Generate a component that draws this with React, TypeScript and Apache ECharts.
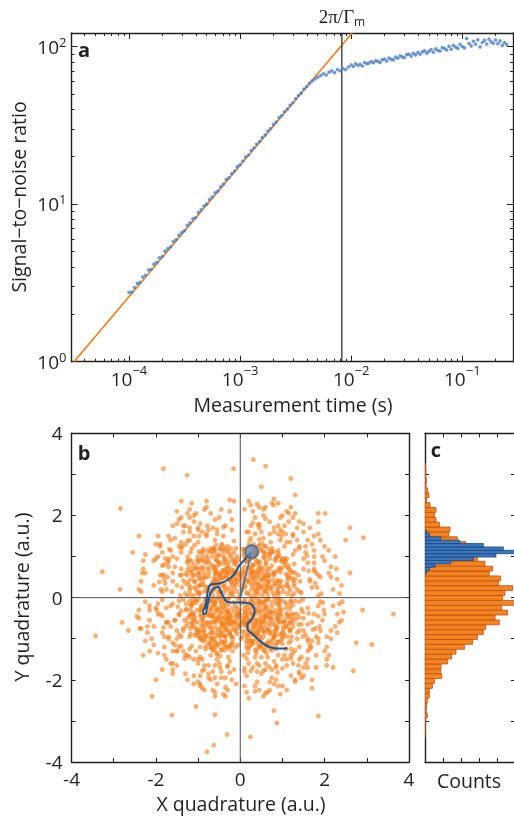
import React, { useEffect, useRef } from 'react';
import * as echarts from 'echarts';

// ---------- Panel a: SNR vs measurement time ----------
const TIME_S = [
  1.00e-4, 1.06e-4, 1.12e-4, 1.19e-4, 1.26e-4, 1.33e-4, 1.41e-4, 1.50e-4, 1.58e-4, 1.68e-4,
  1.78e-4, 1.88e-4, 2.00e-4, 2.11e-4, 2.24e-4, 2.37e-4, 2.51e-4, 2.66e-4, 2.82e-4, 2.99e-4,
  3.16e-4, 3.35e-4, 3.55e-4, 3.76e-4, 3.98e-4, 4.22e-4, 4.47e-4, 4.73e-4, 5.01e-4, 5.31e-4,
  5.62e-4, 5.96e-4, 6.31e-4, 6.68e-4, 7.08e-4, 7.50e-4, 7.94e-4, 8.41e-4, 8.91e-4, 9.44e-4,
  1.00e-3, 1.06e-3, 1.12e-3, 1.19e-3, 1.26e-3, 1.33e-3, 1.41e-3, 1.50e-3, 1.58e-3, 1.68e-3,
  1.78e-3, 1.88e-3, 2.00e-3, 2.11e-3, 2.24e-3, 2.37e-3, 2.51e-3, 2.66e-3, 2.82e-3, 2.99e-3,
  3.16e-3, 3.35e-3, 3.55e-3, 3.76e-3, 3.98e-3, 4.22e-3, 4.47e-3, 4.73e-3, 5.01e-3, 5.31e-3,
  5.62e-3, 5.96e-3, 6.31e-3, 6.68e-3, 7.08e-3, 7.50e-3, 7.94e-3, 8.41e-3, 8.91e-3, 9.44e-3,
  0.0100, 0.01047, 0.01096, 0.01148, 0.01202, 0.01259, 0.01318, 0.01380, 0.01445, 0.01514,
  0.01585, 0.01660, 0.01738, 0.01820, 0.01905, 0.01995, 0.02089, 0.02188, 0.02291, 0.02399,
  0.02512, 0.02630, 0.02754, 0.02884, 0.03020, 0.03162, 0.03311, 0.03467, 0.03631, 0.03802,
  0.03981, 0.04169, 0.04365, 0.04571, 0.04786, 0.05012, 0.05248, 0.05495, 0.05754, 0.06026,
  0.06310, 0.06607, 0.06918, 0.07244, 0.07586, 0.07943, 0.08318, 0.08710, 0.09120, 0.09550,
  0.1000, 0.1047, 0.1096, 0.1148, 0.1202, 0.1259, 0.1318, 0.1380, 0.1445, 0.1514,
  0.1585, 0.1660, 0.1738, 0.1820, 0.1905, 0.1995, 0.2089, 0.2188, 0.2291, 0.2399, 0.2512,
];
const SNR = [
  2.75, 2.77, 2.96, 3.14, 3.19, 3.45, 3.54, 3.82, 3.85, 4.16,
  4.28, 4.57, 4.65, 5.03, 5.22, 5.36, 5.79, 5.95, 6.36, 6.61,
  6.79, 7.33, 7.61, 8.06, 8.20, 8.85, 9.19, 9.73, 10.0, 10.7,
  11.1, 11.8, 12.1, 12.9, 13.4, 14.3, 14.7, 15.6, 16.2, 17.3,
  17.8, 18.8, 19.9, 20.5, 21.9, 22.7, 24.1, 25.0, 26.5, 27.5,
  29.1, 30.2, 32.0, 33.2, 35.5, 36.5, 38.6, 40.1, 42.4, 44.0,
  46.6, 48.9, 50.7, 53.7, 55.7, 58.4, 60.6, 62.3, 64.0, 65.5,
  67.2, 66.0, 68.8, 70.1, 68.4, 71.6, 70.2, 72.8, 71.5, 74.2,
  76.5, 74.8, 77.9, 76.1, 77.2, 75.3, 79.3, 78.0, 78.6, 80.4,
  79.0, 81.4, 80.6, 79.2, 82.5, 83.5, 81.1, 84.6, 83.0, 82.4,
  85.8, 84.3, 87.5, 86.1, 85.0, 88.9, 89.6, 87.0, 90.8, 88.6,
  91.9, 89.5, 92.6, 94.0, 90.9, 93.2, 95.7, 92.1, 96.8, 94.5,
  93.8, 98.6, 97.2, 95.1, 100.5, 96.4, 101.8, 99.3, 97.5, 103.4,
  100.2, 98.1, 112.5, 104.6, 101.0, 108.2, 103.5, 110.4, 99.6, 106.2,
  109.5, 103.8, 111.6, 107.2, 105.0, 110.2, 104.4, 108.8, 101.9, 106.0, 103.2,
];
const FIT_T = [3.2e-5, 1.02e-2];
const FIT_SNR = [1, 122];
const GAMMA_T = 8.24e-3;
const X_MIN = 3.04e-5;
const X_MAX = 0.286;
const Y_MIN = 1;
const Y_MAX = 122;
const X_MAJOR = [1e-4, 1e-3, 1e-2, 1e-1];
const X_MINOR = [
  4e-5, 5e-5, 6e-5, 7e-5, 8e-5, 9e-5,
  2e-4, 3e-4, 4e-4, 5e-4, 6e-4, 7e-4, 8e-4, 9e-4,
  2e-3, 3e-3, 4e-3, 5e-3, 6e-3, 7e-3, 8e-3, 9e-3,
  2e-2, 3e-2, 4e-2, 5e-2, 6e-2, 7e-2, 8e-2, 9e-2,
  2e-1,
];
const Y_MAJOR = [1, 10, 100];
const Y_MINOR = [2, 3, 4, 5, 6, 7, 8, 9, 20, 30, 40, 50, 60, 70, 80, 90];

// ---------- Panel b: quadrature scatter (hundredths of a.u., x,y pairs) ----------
const QUAD_XY_HUNDREDTHS = [
  12,-34, -25,8, 40,15, -7,-41, 31,-22, -38,27, 5,19, -16,-12, 22,37, -44,-9, 9,-27, 33,4, -29,-31, 17,44, -3,2, 41,-18,
  -21,36, -12,-45, 27,29, -36,-3, 2,-14, 15,11, -47,14, 38,-37, -9,31, 24,-8, -31,18, 6,46, -19,-26, 44,26, -5,-5, 29,-43,
  -41,-22, 13,-18, -24,42, 35,12, -14,23, 20,-31, -33,-40, 7,36, -45,3, 39,-2, -2,-30, 26,20, -17,5, 11,-6, -28,-17, 46,-11,
  -8,15, 18,-40, -37,33, 3,27, -22,-38, 32,34, -11,-20, 23,6, -39,11, 14,-47, -6,40, 43,9, -30,-6, 8,-10, -18,30, -42,-30,
  36,-28, 1,8, -26,24, 21,-15, -13,-33, 30,42, -35,-19, 10,25, -4,-38, 42,33, -20,12, 16,-24, -46,-14, 28,-3, -10,44, 34,-12, -27,-2,
  62,15, -55,40, 70,-48, -80,-22, 14,88, -33,-75, 91,27, -66,-61, 45,72, -97,8, 23,-83, 58,-60, -41,84, 77,44, -72,-35, 5,-95,
  -89,39, 36,-59, 64,70, -18,90, 83,-31, -59,-72, 49,-68, -92,-18, 28,79, -48,58, 95,-9, -25,-87, 68,39, -75,51, 12,-68, -62,-18,
  81,55, -7,77, 54,-80, -86,-44, 39,63, -50,-52, 74,-12, -31,70, 17,-99, -70,13, 88,20, -45,-86, 59,51, -94,-29, 31,-74, -57,75,
  72,-67, -14,-58, 47,86, -83,27, 66,-41, -38,-64, 9,62, -65,-48, 93,-35, -21,68, 52,25, -78,-60, 25,-91, -54,33, 86,-52, -2,-72,
  42,-90, -90,50, 60,-25, -36,93, 78,12, -68,-78, 19,73, -47,-38, 97,40, -12,-81, 55,-44, -81,-3, 35,95, -60,60, 69,-79, -28,-52,
  84,-14, -52,87, 40,55, -73,-12, 10,-84, -95,31, 63,28, -42,66, 87,-40, -16,95, 50,-57, -88,-55, 29,68, -64,40, 76,-57, -5,-62,
  57,61, -79,17, 18,-77, -46,-71, 92,9, -33,52, 71,-34, -56,-85, 38,-67, -99,-6, 22,91, -69,-29, 82,35, -24,-66, 46,-78, -85,60,
  65,-5, -37,-93, 3,58, -58,-60, 90,-60, -11,85, 53,70, -76,-42, 33,-86, -50,48, 79,60, -20,-95, 61,-70, -93,-39, 27,60, -63,77,
  94,-22, -30,-60, 44,80, -71,-5, 16,-63, -84,-25, 73,21, -8,-88, 48,-53, -61,22, 85,-76, -27,74, 56,-12, -44,-62, 11,98, -96,14,
  67,54, -34,-80, 89,-2, -53,-30, 37,-96, -74,69, 58,-86, -19,60,
  112,30, -118,-45, 40,-125, -60,115, 135,-40, -102,72, 80,-95, -130,10, 20,128, -85,-105, 125,62, -45,-128, 98,88, -140,-32,
  65,-118, -110,55, 140,15, -22,-112, 52,132, -95,-90, 118,-78, -70,120, 8,-140, -125,68, 105,-60, -55,-135, 130,45, -115,-15,
  35,115, -90,100, 145,-28, -38,-108, 88,-108, -135,42, 60,125, -100,-82, 122,-95, -15,138, 75,-128, -145,-8, 28,-105, -80,88,
  110,95, -128,-70, 45,142, -62,-118, 138,-65, -108,25, 15,-122, -72,112, 95,-88, -142,55, 70,105, -48,-142, 128,28, -120,-95,
  38,-135, -88,70, 148,-5, -30,125, 100,-112, -110,-40, 55,110, -132,-55, 85,98, -18,-130, 118,-20, -75,-110, 25,145, -138,25,
  108,-70, -58,128, 142,40, -95,-120, 62,-135, -125,90, 10,112, -85,-80, 132,-52, -40,118, 90,115, -148,-22, 48,-118, -102,92,
  115,78, -65,-128, 135,-85, -118,8, 32,130, -92,-98, 122,48, -28,-145, 78,-102, -140,70, 68,118, -112,-62, 102,-95, -52,105,
  145,12, -82,-125, 18,-135, -130,35, 95,70, -35,-120, 125,-60, -98,112, 58,-128, -145,-42, 40,108, -70,-100, 138,55, -120,75,
  85,-125, -10,120, 112,-42, -105,-75, 72,135, -60,-110, 130,-8, -88,118, 30,-112, -135,-80, 105,88, -45,130, 120,-105, -115,45,
  50,-145, -78,95, 148,-35, -25,-118, 92,102, -128,-30, 65,-110, -100,60, 118,68, -55,-138, 140,-48, -92,110, 22,138, -142,5,
  80,-88, -68,-122, 128,82, -108,-55, 42,125, -82,-92, 108,-125, -130,58, 15,-148, -62,120, 135,20, -118,-88, 75,112, -38,-128,
  165,40, -170,-60, 55,-178, -90,160, 185,-45, -150,95, 110,-150, -188,20, 30,182, -120,-145, 175,85, -65,-180, 140,120, -195,-40,
  85,-170, -155,75, 192,10, -30,-168, 70,185, -135,-130, 160,-105, -100,165, 15,-190, -172,85, 150,-80, -75,-185, 180,60, -165,-20,
  45,170, -125,138, 198,-30, -50,-160, 120,-148, -185,55, 95,165, -140,-118, 168,-120, -20,190, 100,-172, -195,-15, 40,-160, -108,128,
  155,125, -170,-95, 60,192, -85,-165, 188,-70, -150,30, 25,-178, -98,150, 130,-128, -185,78, 108,155, -60,-195, 178,35, -160,-130,
  50,-185, -118,110, 196,-12, -40,172, 140,-150, -155,-55, 80,160, -182,-72, 118,135, -25,-182, 162,-38, -100,-150, 35,195, -192,38,
  148,-95, -78,175, 190,50, -132,-148, 88,-182, -168,118, 20,160, -115,-118, 172,-78, -55,165, 125,150, -198,-30, 68,-168, -138,125,
  158,102, -90,-178, 185,-100, -162,15, 42,178, -125,-140, 162,65, -35,-195, 105,-140, -178,95, 90,175, -145,-90, 138,-165, -172,50,
  10,-172, -95,180, 182,25, -160,-110, 98,150, -48,-170,
  215,50, -220,-70, 60,-232, -110,200, 235,-60, -190,130, 140,-185, -240,20, 40,228, -160,-175, 210,115, -85,-225, 175,150,
  -245,-45, 100,-215, -200,95, 242,-10, -35,-218, 90,230, -165,-160, 200,-130, -125,205, 20,-245, -225,105, 185,-110, -95,-215,
  228,70, -215,-30, 55,215, -150,180, 245,-35, -60,-240, 150,-190, -232,60, 115,205, -180,-140, 205,-150, -25,238, 130,-200,
  -238,-75, 70,-225, -135,175, 190,140, -205,-115, 80,240, -110,-210, 230,-85, -180,45, 35,-228, -120,195, 160,-170, -230,90,
  260,60, -265,-80, 80,-275, -140,235, 275,-110, -240,150, 170,-220, -285,20, 50,270, -200,-200, 250,140, -105,-265, 220,-170,
  -280,-60, 130,250, -230,-140, 290,-30, -60,-285, 185,205, -255,110,
  -182,314, -126,298, -284,217, -327,63, -343,-93, -209,-240, -162,-286, -79,-375, -31,-333, -63,-359, 24,-339, 87,-305,
  185,-288, 268,-178, 312,-114, 363,-40, 292,146, 260,170, 31,336, -16,314, 201,205, 60,320, 120,290,
  -52,12, 18,-58, 63,-21, -9,55, 41,48, -60,-35, 27,-61, -44,46, 58,33, 3,-66, -35,-57, 66,-2, -64,17, 12,64, 47,-45, -21,-49,
  37,-54, -57,-8, 53,5, -1,48, -49,-48, 21,56, -28,62, 61,-38, -67,33, 8,-52, 50,27, -40,-66, 34,59, -62,-4, 15,-44, -14,-64,
  55,-57, -33,48, 44,-9, -55,29, 26,50, -47,-24, 59,16, 5,-60, -25,-43, 39,-31, -8,63, -58,-51, 49,45, -19,52, 30,-49, -66,-22,
  64,43, -37,-12, 12,-36, -3,-50, 46,-24, -50,38, 23,-53, -12,58, 55,52, -44,-37, 36,18, -61,50, 9,53, -30,-65, 67,-31, -53,1,
  19,41, -24,-55, 42,-63, -67,-44, 32,51, -5,-68, 62,24, -40,55, 17,-63, -56,-27, 51,-14, -11,45, 29,63, -48,-4, 60,-49, -20,-59,
  45,57, -63,26, 4,-43, -34,62, 65,8, -42,-50, 24,-57, -16,66, 57,-30, -59,42, 38,38, -27,-47, 13,-65, -64,-11, 48,63, -36,22,
  58,-10, 0,57, -46,-59, 33,-41, -18,47, 63,53, -54,-45, 7,-57, -29,56, 52,-59, -65,5, 22,67, -38,-48, 44,21, -7,-47, 61,-44,
  -51,53, 15,39, -23,-62, 56,46, -60,-17, 35,-66, -10,61, 50,-33, -45,14, 27,-38, -32,-36, 68,30, -57,59, 10,-62, -26,44,
  88,-45, -105,20, 55,98, -72,-88, 110,-15, -40,112, 82,-80, -118,-30, 25,-115, -90,75, 115,48, -60,-105, 70,95, -125,5, 45,-102,
  -85,-70, 120,-55, -30,-118, 95,62, -100,55, 10,118, -112,-52, 78,-98, -55,90, 128,10, -20,-95, 92,-28, -98,-85, 60,-112, -80,102,
  105,80, -122,40, 35,120, -70,-110, 122,-40, -45,-80, 85,35, -110,80, 18,-90, -92,-22, 72,108, -38,95, 100,-85, -128,-15, 50,-120,
  -75,60, 115,25, -15,110, 65,-78, -102,-60, 40,88, -88,92, 125,-70, -58,-120, 95,-5, -115,65, 30,-108, -65,-85, 108,58, -28,-125,
  80,-65, -120,-42, 58,110, -95,30, 118,-28, -50,102, 75,78, -80,-95, 20,-125, -105,-5, 102,-60, -35,85, 88,100, -125,55, 48,-95,
  -72,-60, 128,35, -10,-120, 68,-105, -98,90, 112,-95, -62,72, 32,98, -118,-75, 90,15, -42,-110, 60,80, -88,-48, 120,62, -22,105,
  98,-45, -108,38, 42,-85, -78,115, 105,-10, -52,-92, 80,112, -115,-20, 25,125, -68,-98, 118,-82, -85,48, 55,-128, -125,-50, 98,92,
  -35,-105, 70,-52, -100,100, 122,5, -48,118, 85,-115, -92,-78, 15,95, -120,18, 65,62, -62,-128, 110,-38, -30,78, 92,40, -108,-92,
  45,-75, -82,85, 125,-50, -18,-100, 75,120, -112,-38, 38,105, -70,-72, 100,-100, -55,65, 115,70, -95,-30, 28,-82, -120,92, 88,-72,
  -42,128, 62,-118, -102,12, 108,30, -25,-88, 82,92, -90,-105, 50,72, -118,62, 125,-18, -60,-95, 35,-128, -75,88, 95,-60, -128,-28,
  20,102, -45,-125, 112,50, -85,-12, 72,-85, -105,72, 58,125, -32,-78, 118,-62, -68,112, 88,10, -115,-68, 42,-112, -50,80, 102,-78,
  -98,48, 22,-105, -82,-118, 128,-40, -12,88, 78,-38, -122,30, 48,115, -72,-45, 105,95, -38,-92, 90,-108, -110,-12, 68,52, -58,100,
  120,-8, -95,-98, 30,78, -125,-62, 85,-92, -48,58, 110,-70, -88,112, 55,-82, -108,-48, 15,-112, -65,118, 98,72, -120,-8, 38,-90,
  -80,-62, 125,42, -28,115, 70,-125, -100,28, 92,-15, -52,-115, 60,92, -115,88, 112,-48, -35,70, 82,62, -92,-68, 45,128, -70,-122,
  118,18, -20,-78,
  150,-50, -160,40, 70,155, -120,-125, 170,25, -60,-165, 135,-100, -175,-25, 30,-170, -140,110, 160,85, -95,-145, 110,135, -180,55,
  60,-160, -150,-80, 175,-40, -35,175, 125,105, -130,130, 15,160, -165,-70, 140,-120, -80,150, 185,5, -25,-155, 145,-65, -155,-115,
  85,-165, -110,150, 155,110, -178,35, 45,178, -100,-160, 178,-75, -70,-140, 130,60, -160,100, 35,-145, -145,-40, 100,160, -55,155,
  160,-130, -185,-5, 75,-175, -125,85, 165,45, -20,165, 120,-140, -150,-100, 55,145, -120,140, 180,-95, -85,-175, 140,-10, -170,90,
  20,-160, -105,-130, 150,95, -45,-180, 115,-110, -175,-60, 90,155, -140,55, 170,-60, -75,165, 105,125, -130,-140, 40,-180, -160,-15,
  155,-90, -60,140, 135,140, -180,80, 65,-145, -95,-100, 185,55, -15,-175, 100,-150, -145,125, 160,-25, -100,170, 125,-160, -170,-100,
  50,160, -135,-75, 175,70, -40,150, 145,-145, -160,60, 80,-155, -115,120, 130,115, -185,-45, 25,175, -90,-150, 165,-115, -125,100,
  95,140, -150,-130, 60,-175, -175,20, 140,-80, -65,170, 110,-165, -140,-95, 185,-20, -30,-165, 80,170, -165,115, 150,70, -110,-150,
  35,155, -155,-55, 120,-125, -80,155, 175,100, -185,15, 45,-165, -100,135, 160,-65, -55,-150, 125,155, -145,-120, 170,-105, -120,160,
  10,-180, -170,75, 90,-140, -75,-165, 140,125, -135,-5,
  -15,-72, 33,81, -77,25, 90,-50, -48,-95, 8,105, 70,-88, -102,-30, 55,15, -20,40, 28,-12, -62,70, 100,25, -35,-28, 15,-105,
  -88,-65, 78,58, -5,92, 45,-35, -70,-8, 108,-25, 22,72, -52,-78, 85,90, -95,45, 38,-78, -28,88, 60,-5, -110,5, 12,-48,
  -45,30, 92,72, -78,-40, 35,105, -18,-110, 75,-22, -58,92, 48,-115, -100,-78, 65,38, -8,-25, 102,-72, -40,65, 18,12, -85,15,
  55,-95, -30,-48, 95,-40, -65,-100, 28,-38, -112,55, 80,5, -22,120, 42,68, -75,-70, 112,10, -50,18, 5,-82, -92,90, 68,-62,
  -12,35, 88,42, -38,-115, 52,-72, -105,-12, 25,95, -60,45, 98,-92, -80,-18, 10,75, -30,110, 72,-110, -115,-40, 40,-55, -55,-30,
  115,55, 2,-100, -95,70, 62,85, -42,-65, 85,-70, -68,100, 30,-90, -118,25, 105,-55, -25,-85, 50,118, -82,50, 18,-70, -48,120,
  90,-15, -102,-92, 45,32, -15,60, 78,-115, -62,-58, 32,48, -90,-28, 118,-45, -5,-115, 58,100, -70,80, 95,30, -35,-95, 15,88,
  -108,40, 72,-35, -52,-112, 38,-102, -88,-82, 110,75, -20,15, 65,-80, -75,22, 25,-25, -45,-90, 100,95, -98,10, 48,-8, -12,-58,
  80,-95, -62,110, 35,25, -115,-60, 88,65, -28,-35, 6,118, -85,-100, 58,-48, -40,102, 120,-10, -72,-25, 22,-118, -58,62, 105,-88,
  -95,-45, 42,88, -5,-40, 70,22, -110,70, 28,60, -38,-72, 92,-55, -68,-85, 15,-92, -100,85, 75,-48, -25,100, 50,-102, -82,-5,
  112,40, -55,-55, 12,28, -30,62, 85,-82, -118,-18, 38,112, -65,35, 98,-30, -45,-105, 65,105, -92,-55, 20,-55, -78,72, 115,-62,
  -10,-78, 52,42, -105,-85, 82,-5, -35,120, 45,-120, -88,32, 108,88, -60,-12, 30,-70, -15,82, 95,-105, -72,-115, 58,-22, -112,-5,
  5,68, -50,85, 78,28, -32,-50, 118,-78, -95,60, 40,-85, -20,-118, 70,70, -85,-90, 102,15, -42,48, 25,-105, -65,-42, 90,108,
  -110,-70, 48,-62, -8,100,
  125,-135, -140,120, 190,-10, -20,-200, 160,140, -185,-85, 70,-205, -120,170, 215,-80, -205,30, 30,210, -75,-195, 150,-170,
  -170,150, 200,90, -110,-190, 95,195, -215,-55, 180,-140, -45,215, 135,170, -195,100, 10,-215, -150,-165, 220,20, -60,190,
  120,-190, -180,-120, 60,220, -225,60, 175,115, -95,-210, 205,-95, -140,195, 45,-225, -190,-40, 150,180, -30,-225, 195,-55,
  -160,175, 85,-200, -210,-100, 110,210, -235,15, 230,-40, -80,220, 160,-150, -130,-185, 20,235, -200,130, 210,60, -60,-230,
  130,-205, -175,-150, 75,230, -240,-30, 185,155, -105,205, 235,-15, -15,235, 145,-195, -220,-85, 100,200, -165,140, 225,-70,
  -40,-235, 170,130, -195,-135, 55,-240, -145,190, 240,30, -90,-220, 120,220, -230,70, 205,-120, -125,-200, 35,-215, -185,110,
  195,100, -70,205, 155,-160, -215,-20, 80,225, -160,-160, 220,-20, -25,210, 140,185, -205,-70, 90,-215, -135,160, 215,75,
  -55,-210, 165,-125, -190,125, 15,-230, -120,215, 180,-170, -240,-50, 125,195, -95,-190, 230,45, -170,95, 65,-230, -150,-130,
  200,125, -80,235, 110,-225, -225,-105, 45,220, -185,-175, 190,-80, -35,-240, 150,160, -205,90, 75,-195, -110,185, 240,-55,
  -175,-60, 130,205, -65,-225, 210,-140, -140,135, 25,225, -225,-10, 175,65, -100,-205, 95,-235, -195,150, 185,185, -50,195,
  160,-100, -215,-130, 105,175, -150,210, 235,10, -10,-210, 140,-180, -235,40, 55,200, -160,-185, 200,-40, -85,215, 170,-200,
  -200,-25, 80,-210, -130,175, 225,100, -45,-195, 115,185, -180,-95, 205,-165, -115,230, 40,-205, -235,-75, 165,170, -70,-200,
  215,-100, -155,145, 10,215, -190,55,
];
const TRAJ_X = [0.27, 0.17, 0.08, -0.04, -0.16, -0.30, -0.47, -0.60, -0.72, -0.77, -0.80, -0.84, -0.88, -0.87, -0.81, -0.79, -0.75, -0.71, -0.63, -0.52, -0.45, -0.40, -0.34, -0.22, -0.04, 0.18, 0.30, 0.34, 0.28, 0.17, 0.18, 0.29, 0.44, 0.63, 0.87, 1.12];
const TRAJ_Y = [1.12, 1.01, 0.90, 0.75, 0.55, 0.43, 0.35, 0.33, 0.31, 0.14, -0.06, -0.24, -0.32, -0.40, -0.37, -0.24, -0.06, 0.10, 0.22, 0.26, 0.12, 0.02, -0.08, -0.12, -0.12, -0.13, -0.20, -0.35, -0.52, -0.66, -0.79, -0.88, -1.03, -1.17, -1.24, -1.23];
const STATE = [0.27, 1.12];

// ---------- Panel c: histograms of Y quadrature ----------
const HIST_ORANGE_START = -3.398;
const HIST_ORANGE_WIDTH = 0.119;
const HIST_ORANGE = [1, 2, 2, 3, 13, 6, 9, 13, 24, 24, 41, 52, 93, 87, 89, 126, 148, 172, 219, 265, 291, 324, 337, 413, 389, 459, 426, 510, 431, 444, 487, 409, 420, 357, 376, 333, 291, 270, 250, 226, 180, 132, 139, 80, 61, 52, 61, 28, 9, 22, 15, 4, 9, 3, 5, 2];
const HIST_BLUE_START = 0.578;
const HIST_BLUE_WIDTH = 0.082;
const HIST_BLUE = [9, 24, 56, 143, 269, 394, 520, 435, 324, 194, 87, 24, 9];

const AX = '#231f20';
const FONT = 'Open Sans';
const TICK_FS = 19;
const TITLE_FS = 19.5;

export default function App() {
  const ref = useRef<HTMLDivElement>(null);
  useEffect(() => {
    if (!ref.current) return;
    const chart = echarts.init(ref.current, undefined, { renderer: 'svg' });

    const line = (show: boolean) => ({ show, onZero: false, lineStyle: { color: AX, width: 1.4 } });
    const tick = (len: number, custom?: number[]) => ({
      show: true, inside: true, length: len, lineStyle: { color: AX, width: 1 },
      ...(custom ? { customValues: custom } : {}),
    });
    const noLabel = { show: false };
    const noSplit = { show: false };

    const supX = (v: number) => {
      const e = Math.round(Math.log10(v));
      return `{b|10}{s|${e < 0 ? '\u2212' + -e : e}}`;
    };
    const richX = {
      b: { fontFamily: FONT, fontSize: TICK_FS, color: AX, lineHeight: 26 },
      s: { fontFamily: FONT, fontSize: 13, color: AX, height: 7, lineHeight: 7, verticalAlign: 'top' },
    };
    const richY = {
      b: { fontFamily: FONT, fontSize: TICK_FS, color: AX, lineHeight: 23 },
      s: { fontFamily: FONT, fontSize: 13, color: AX, lineHeight: 13, verticalAlign: 'top' },
    };
    const evenFmt = (v: number) => (Math.round(v) % 2 === 0 ? String(Math.round(v)) : '');

    const logX = (position: string, len: number, custom: number[], showLine: boolean, labels: any) => ({
      gridIndex: 0, type: 'log', logBase: 10, min: X_MIN, max: X_MAX, position,
      axisLine: line(showLine), axisTick: tick(len, custom), axisLabel: labels, splitLine: noSplit,
    });
    const logY = (position: string, len: number, custom: number[], showLine: boolean, labels: any) => ({
      gridIndex: 0, type: 'log', logBase: 10, min: Y_MIN, max: Y_MAX, position,
      axisLine: line(showLine), axisTick: tick(len, custom), axisLabel: labels, splitLine: noSplit,
    });
    const valAx = (grid: number, position: string, min: number, max: number, interval: number, labels: any, showLine = true) => ({
      gridIndex: grid, type: 'value', min, max, interval, position,
      axisLine: line(showLine), axisTick: tick(4), axisLabel: labels, splitLine: noSplit,
    });

    const quadLabels = (margin: number) => ({
      show: true, formatter: evenFmt, fontFamily: FONT, fontSize: TICK_FS, color: AX, margin,
    });

    const scatterData: number[][] = [];
    for (let i = 0; i + 1 < QUAD_XY_HUNDREDTHS.length; i += 2) {
      scatterData.push([QUAD_XY_HUNDREDTHS[i] / 100, QUAD_XY_HUNDREDTHS[i + 1] / 100]);
    }

    const hist = (start: number, w: number, counts: number[]) =>
      counts.map((c, i) => [start + i * w, start + (i + 1) * w, c]);
    const histRender = (fill: string, stroke: string) => (params: any, api: any) => {
      const y0 = api.value(0);
      const y1 = api.value(1);
      const c = api.value(2);
      const a = api.coord([0, y0]);
      const b = api.coord([c, y1]);
      return {
        type: 'rect',
        shape: { x: a[0], y: b[1], width: b[0] - a[0], height: a[1] - b[1] },
        style: { fill, stroke, lineWidth: 0.8 },
      };
    };

    const title = (text: string, x: number, y: number, rot = 0) => ({
      type: 'text', x, y, rotation: rot,
      style: { text, font: `${TITLE_FS}px "${FONT}"`, fill: AX, align: 'center', verticalAlign: 'middle' },
    });
    const panel = (text: string, x: number, y: number) => ({
      type: 'text', x, y,
      style: { text, font: `bold 20px "${FONT}"`, fill: AX, align: 'center', verticalAlign: 'middle' },
    });

    const option: any = {
      animation: false,
      grid: [
        { left: 71.5, top: 33, width: 441.5, height: 328.7, containLabel: false, outerBoundsMode: 'none' },
        { left: 71.5, top: 433.3, width: 337.5, height: 328.7, containLabel: false, outerBoundsMode: 'none' },
        { left: 425, top: 433.3, width: 90, height: 328.7, containLabel: false, outerBoundsMode: 'none' },
      ],
      xAxis: [
        logX('bottom', 6, X_MAJOR, true, {
          show: true, customValues: X_MAJOR, formatter: supX, rich: richX, margin: 4.5,
        }),
        logX('bottom', 3, X_MINOR, false, noLabel),
        logX('top', 6, X_MAJOR, true, noLabel),
        logX('top', 3, X_MINOR, false, noLabel),
        valAx(1, 'bottom', -4, 4, 1, quadLabels(7)),
        valAx(1, 'top', -4, 4, 1, noLabel),
        valAx(2, 'bottom', 0, 500, 100, noLabel),
        valAx(2, 'top', 0, 500, 100, noLabel),
      ],
      yAxis: [
        logY('left', 6, Y_MAJOR, true, {
          show: true, customValues: Y_MAJOR, formatter: supX, rich: richY, margin: 5,
        }),
        logY('left', 3, Y_MINOR, false, noLabel),
        logY('right', 6, Y_MAJOR, true, noLabel),
        logY('right', 3, Y_MINOR, false, noLabel),
        valAx(1, 'left', -4, 4, 1, quadLabels(9)),
        valAx(1, 'right', -4, 4, 1, noLabel),
        valAx(2, 'left', -4, 4, 1, noLabel),
        valAx(2, 'right', -4, 4, 1, noLabel),
      ],
      series: [
        {
          type: 'line', xAxisIndex: 0, yAxisIndex: 0, symbol: 'none', silent: true,
          data: FIT_T.map((t, i) => [t, FIT_SNR[i]]),
          lineStyle: { color: '#f07d1a', width: 1.6 }, z: 2,
        },
        {
          type: 'line', xAxisIndex: 0, yAxisIndex: 0, symbol: 'none', silent: true,
          data: [[GAMMA_T, Y_MIN], [GAMMA_T, Y_MAX]],
          lineStyle: { color: AX, width: 1.2 }, z: 2,
        },
        {
          type: 'scatter', xAxisIndex: 0, yAxisIndex: 0, symbolSize: 3.6,
          data: TIME_S.map((t, i) => [t, SNR[i]]),
          itemStyle: { color: '#4a7fc6' }, z: 3,
        },
        {
          type: 'scatter', xAxisIndex: 4, yAxisIndex: 4, symbolSize: 5,
          data: scatterData,
          itemStyle: { color: '#f47e1a', opacity: 0.6 }, z: 2,
        },
        {
          type: 'line', xAxisIndex: 4, yAxisIndex: 4, symbol: 'none', silent: true,
          data: [[0, -4], [0, 4]], lineStyle: { color: '#4d4d4d', width: 1 }, z: 3,
        },
        {
          type: 'line', xAxisIndex: 4, yAxisIndex: 4, symbol: 'none', silent: true,
          data: [[-4, 0], [4, 0]], lineStyle: { color: '#4d4d4d', width: 1 }, z: 3,
        },
        {
          type: 'line', xAxisIndex: 4, yAxisIndex: 4, symbol: 'none', silent: true,
          data: [[0, 0], STATE], lineStyle: { color: '#3a6fab', width: 1.6 }, z: 4,
        },
        {
          type: 'line', xAxisIndex: 4, yAxisIndex: 4, symbol: 'none', silent: true, smooth: 0.3,
          data: TRAJ_X.map((x, i) => [x, TRAJ_Y[i]]),
          lineStyle: { color: '#1b5592', width: 2 }, z: 5,
        },
        {
          type: 'scatter', xAxisIndex: 4, yAxisIndex: 4, symbolSize: 13,
          data: [STATE],
          itemStyle: { color: '#6f86a8', borderColor: '#35659e', borderWidth: 1.5 }, z: 6,
        },
        {
          type: 'custom', xAxisIndex: 6, yAxisIndex: 6, clip: true,
          data: hist(HIST_ORANGE_START, HIST_ORANGE_WIDTH, HIST_ORANGE),
          encode: { x: 2, y: [0, 1] },
          renderItem: histRender('#f5841f', '#b9521b'), z: 2,
        },
        {
          type: 'custom', xAxisIndex: 6, yAxisIndex: 6, clip: true,
          data: hist(HIST_BLUE_START, HIST_BLUE_WIDTH, HIST_BLUE),
          encode: { x: 2, y: [0, 1] },
          renderItem: histRender('#3b78bd', '#1c4680'), z: 3,
        },
      ],
      graphic: [
        title('Measurement time (s)', 293, 404),
        title('Signal\u2212to\u2212noise ratio', 18, 197, Math.PI / 2),
        title('X quadrature (a.u.)', 241, 803),
        title('Y quadrature (a.u.)', 21, 597, Math.PI / 2),
        title('Counts', 469, 780),
        panel('a', 84, 49),
        panel('b', 84, 452),
        panel('c', 436, 449),
        {
          type: 'text', x: 342, y: 16,
          style: {
            text: '{r|2\u03c0/\u0393}{m|m}', align: 'center', verticalAlign: 'middle',
            rich: {
              r: { fontFamily: '"Liberation Serif", serif', fontSize: 19, fill: AX, color: AX, lineHeight: 22 },
              m: { fontFamily: FONT, fontSize: 12, fill: AX, color: AX, lineHeight: 12, verticalAlign: 'bottom' },
            },
          },
        },
      ],
    };
    chart.setOption(option);
    return () => chart.dispose();
  }, []);
  return <div ref={ref} style={{ position: 'fixed', left: 0, top: 0, width: 514, height: 816 }} />;
}
